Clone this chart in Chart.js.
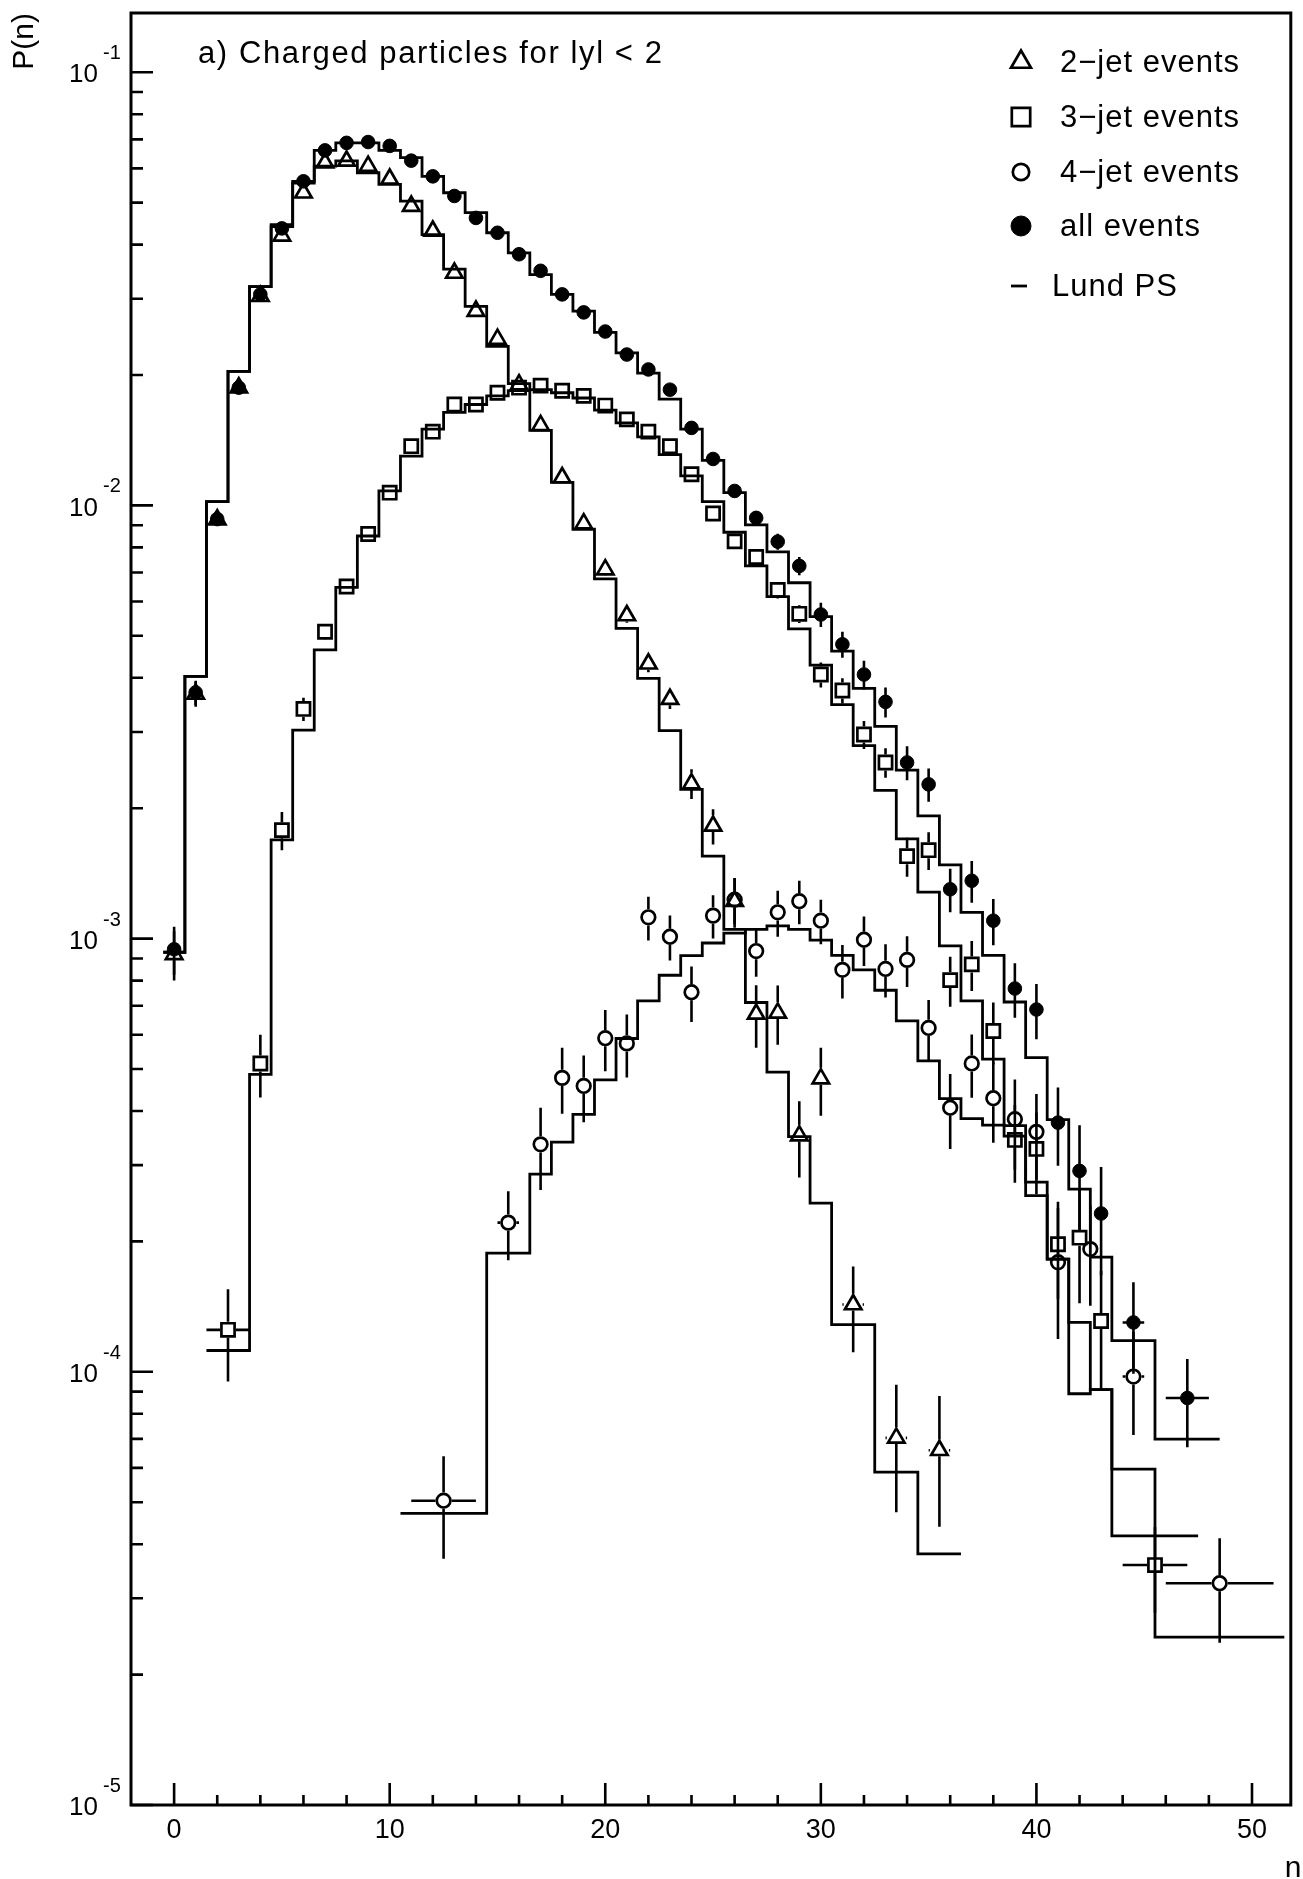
<!DOCTYPE html>
<html>
<head>
<meta charset="utf-8">
<title>P(n) - charged particles</title>
<script src="https://cdn.jsdelivr.net/npm/chart.js@4.4.1/dist/chart.umd.min.js"></script>
<style>
   html, body { margin: 0; padding: 0; background: #ffffff; }
   #canvasPn { display: block; }
</style>
</head>
<body>
<canvas id="canvasPn" width="1303" height="1879"></canvas>
<script>

/* ---- data ---- */

const panelTitle = "a) Charged particles for lyl < 2";
const xTitle = "n";

/* 2-jet events, open triangles */
const jet2N    = [0, 1, 2, 3, 4, 5, 6, 7, 8, 9, 10, 11, 12, 13, 14, 15, 16, 17, 18, 19, 20,
                  21, 22, 23, 24, 25, 26, 27, 28, 29, 30, 31.5, 33.5, 35.5];
const jet2P    = [9.2e-4, 3.67e-3, 9.27e-3, 1.87e-2, 3.04e-2, 4.19e-2, 5.27e-2, 6.18e-2, 6.24e-2, 6.07e-2,
                  5.67e-2, 4.91e-2, 4.30e-2, 3.44e-2, 2.81e-2, 2.42e-2, 1.90e-2, 1.53e-2, 1.16e-2, 9.08e-3,
                  7.11e-3, 5.57e-3, 4.31e-3, 3.57e-3, 2.28e-3, 1.82e-3, 1.22e-3, 6.70e-4, 6.74e-4, 3.51e-4,
                  4.75e-4, 1.43e-4, 7.04e-5, 6.59e-5];
const jet2Err  = [1.2e-4, 2.4e-4, 3e-4, 4e-4, 5e-4, 6e-4, 7e-4, 8e-4, 8e-4, 8e-4,
                  7e-4, 7e-4, 6e-4, 5e-4, 5e-4, 4e-4, 4e-4, 3.5e-4, 3e-4, 2.6e-4,
                  2.3e-4, 2.1e-4, 1.9e-4, 1.8e-4, 1.8e-4, 1.7e-4, 1.6e-4, 1.1e-4, 1.05e-4, 7e-5,
                  8.5e-5, 3.2e-5, 2.3e-5, 2.2e-5];
const jet2XErr = [0, 0, 0, 0, 0, 0, 0, 0, 0, 0, 0, 0, 0, 0, 0, 0, 0, 0, 0, 0,
                  0, 0, 0, 0, 0, 0, 0, 0, 0, 0, 0, 0.5, 0.5, 0.5];

/* 3-jet events, open squares */
const jet3N    = [2.5, 4, 5, 6, 7, 8, 9, 10, 11, 12, 13, 14, 15, 16, 17, 18, 19, 20, 21, 22, 23,
                  24, 25, 26, 27, 28, 29, 30, 31, 32, 33, 34, 35, 36, 37, 38, 39, 40, 41, 42, 43, 45.5];
const jet3P    = [1.25e-4, 5.15e-4, 1.78e-3, 3.39e-3, 5.11e-3, 6.5e-3, 8.59e-3, 1.07e-2, 1.37e-2, 1.48e-2,
                  1.71e-2, 1.71e-2, 1.82e-2, 1.87e-2, 1.89e-2, 1.84e-2, 1.79e-2, 1.70e-2, 1.58e-2, 1.48e-2,
                  1.37e-2, 1.18e-2, 9.58e-3, 8.26e-3, 7.6e-3, 6.38e-3, 5.62e-3, 4.07e-3, 3.74e-3, 2.96e-3,
                  2.55e-3, 1.55e-3, 1.60e-3, 8.02e-4, 8.72e-4, 6.12e-4, 3.43e-4, 3.27e-4, 1.97e-4, 2.04e-4,
                  1.31e-4, 3.58e-5];
const jet3Err  = [3e-5, 8.5e-5, 1.8e-4, 2.1e-4, 2.2e-4, 2.4e-4, 2.6e-4, 2.8e-4, 3e-4, 3e-4,
                  3e-4, 3e-4, 3e-4, 3e-4, 3e-4, 3e-4, 3e-4, 3e-4, 3e-4, 3e-4,
                  3e-4, 2.8e-4, 2.7e-4, 2.6e-4, 2.5e-4, 2.8e-4, 2.7e-4, 2.7e-4, 2.5e-4, 2.2e-4,
                  2e-4, 1.6e-4, 1.6e-4, 1.06e-4, 1.15e-4, 1e-4, 7e-5, 7e-5, 5e-5, 6e-5,
                  4e-5, 8e-6];
const jet3XErr = [1, 0, 0, 0, 0, 0, 0, 0, 0, 0, 0, 0, 0, 0, 0, 0, 0, 0, 0, 0, 0,
                  0, 0, 0, 0, 0, 0, 0, 0, 0, 0, 0, 0, 0, 0, 0, 0, 0, 0, 0, 0, 1.5];

/* 4-jet events, open circles */
const jet4N    = [12.5, 15.5, 17, 18, 19, 20, 21, 22, 23, 24, 25, 26, 27, 28, 29, 30,
                  31, 32, 33, 34, 35, 36, 37, 38, 39, 40, 41, 42.5, 44.5, 48.5];
const jet4P    = [5.04e-5, 2.21e-4, 3.35e-4, 4.77e-4, 4.57e-4, 5.89e-4, 5.73e-4, 1.12e-3, 1.01e-3, 7.52e-4,
                  1.13e-3, 1.23e-3, 9.36e-4, 1.15e-3, 1.22e-3, 1.10e-3, 8.47e-4, 9.94e-4, 8.51e-4, 8.93e-4,
                  6.22e-4, 4.07e-4, 5.15e-4, 4.28e-4, 3.83e-4, 3.58e-4, 1.79e-4, 1.92e-4, 9.75e-5, 3.25e-5];
const jet4Err  = [1.34e-5, 4e-5, 7.2e-5, 8.3e-5, 8e-5, 9.5e-5, 9.5e-5, 1.3e-4, 1.2e-4, 1.1e-4,
                  1.3e-4, 1.5e-4, 1.2e-4, 1.4e-4, 1.4e-4, 1.3e-4, 1.2e-4, 1.3e-4, 1.2e-4, 1.2e-4,
                  1e-4, 8e-5, 8.6e-5, 9e-5, 9e-5, 8e-5, 6e-5, 5e-5, 2.6e-5, 8.8e-6];
const jet4XErr = [1.5, 0.5, 0, 0, 0, 0, 0, 0, 0, 0, 0, 0, 0, 0, 0, 0,
                  0, 0, 0, 0, 0, 0, 0, 0, 0, 0, 0, 0, 0.5, 2.5];

/* all events, full dots */
const allN     = [0, 1, 2, 3, 4, 5, 6, 7, 8, 9, 10, 11, 12, 13, 14, 15, 16, 17, 18, 19, 20, 21,
                  22, 23, 24, 25, 26, 27, 28, 29, 30, 31, 32, 33, 34, 35, 36, 37, 38, 39, 40, 41,
                  42, 43, 44.5, 47];
const allP     = [9.45e-4, 3.7e-3, 9.3e-3, 1.87e-2, 3.07e-2, 4.36e-2, 5.6e-2, 6.6e-2, 6.87e-2, 6.9e-2,
                  6.76e-2, 6.25e-2, 5.75e-2, 5.18e-2, 4.61e-2, 4.26e-2, 3.80e-2, 3.48e-2, 3.07e-2, 2.79e-2,
                  2.52e-2, 2.23e-2, 2.06e-2, 1.85e-2, 1.51e-2, 1.28e-2, 1.08e-2, 9.36e-3, 8.25e-3, 7.25e-3,
                  5.6e-3, 4.78e-3, 4.07e-3, 3.52e-3, 2.55e-3, 2.27e-3, 1.30e-3, 1.36e-3, 1.10e-3, 7.67e-4,
                  6.86e-4, 3.76e-4, 2.91e-4, 2.32e-4, 1.30e-4, 8.7e-5];
const allErr   = [1.2e-4, 2.4e-4, 3e-4, 4e-4, 5e-4, 6e-4, 7e-4, 7e-4, 7e-4, 7e-4,
                  7e-4, 7e-4, 6e-4, 6e-4, 5e-4, 5e-4, 4.5e-4, 4.5e-4, 4e-4, 4e-4,
                  4e-4, 3.8e-4, 3.8e-4, 3.6e-4, 3.5e-4, 3.5e-4, 3.5e-4, 3.5e-4, 3.5e-4, 3.5e-4,
                  3.6e-4, 3.3e-4, 3.1e-4, 2.8e-4, 2.3e-4, 2e-4, 1.5e-4, 1.5e-4, 1.35e-4, 1.1e-4,
                  1e-4, 7.7e-5, 8e-5, 6.5e-5, 3.1e-5, 2e-5];
const allXErr  = [0, 0, 0, 0, 0, 0, 0, 0, 0, 0, 0, 0, 0, 0, 0, 0, 0, 0, 0, 0, 0, 0,
                  0, 0, 0, 0, 0, 0, 0, 0, 0, 0, 0, 0, 0, 0, 0, 0, 0, 0, 0, 0, 0, 0, 0.5, 1];

/* Lund PS histograms: bin edges and bin contents */
const lundAllEdges = [-0.5, 0.5, 1.5, 2.5, 3.5, 4.5, 5.5, 6.5, 7.5, 8.5, 9.5, 10.5, 11.5, 12.5, 13.5,
                      14.5, 15.5, 16.5, 17.5, 18.5, 19.5, 20.5, 21.5, 22.5, 23.5, 24.5, 25.5, 26.5, 27.5,
                      28.5, 29.5, 30.5, 31.5, 32.5, 33.5, 34.5, 35.5, 36.5, 37.5, 38.5, 39.5, 40.5, 41.5,
                      42.5, 43.5, 45.5, 48.5];
const lundAllP     = [9.3e-4, 4.03e-3, 1.02e-2, 2.04e-2, 3.2e-2, 4.45e-2, 5.6e-2, 6.6e-2, 6.87e-2, 6.87e-2,
                      6.6e-2, 6.35e-2, 5.75e-2, 5.27e-2, 4.74e-2, 4.26e-2, 3.83e-2, 3.41e-2, 3.07e-2, 2.81e-2,
                      2.51e-2, 2.25e-2, 2.02e-2, 1.76e-2, 1.50e-2, 1.27e-2, 1.07e-2, 9.02e-3, 7.81e-3, 6.63e-3,
                      5.54e-3, 4.61e-3, 3.78e-3, 3.09e-3, 2.45e-3, 1.92e-3, 1.48e-3, 1.15e-3, 9.15e-4, 7.14e-4,
                      5.31e-4, 3.82e-4, 2.64e-4, 1.84e-4, 1.18e-4, 6.99e-5];

const lund2Edges   = [-0.5, 0.5, 1.5, 2.5, 3.5, 4.5, 5.5, 6.5, 7.5, 8.5, 9.5, 10.5, 11.5, 12.5, 13.5,
                      14.5, 15.5, 16.5, 17.5, 18.5, 19.5, 20.5, 21.5, 22.5, 23.5, 24.5, 25.5, 26.5, 27.5,
                      28.5, 29.5, 30.5, 32.5, 34.5, 36.5];
const lund2P       = [9.3e-4, 4.03e-3, 1.02e-2, 2.04e-2, 3.2e-2, 4.4e-2, 5.55e-2, 6.07e-2, 6.24e-2, 5.86e-2,
                      5.51e-2, 5.04e-2, 4.22e-2, 3.51e-2, 2.88e-2, 2.33e-2, 1.91e-2, 1.49e-2, 1.13e-2, 8.81e-3,
                      6.77e-3, 5.2e-3, 3.99e-3, 3.02e-3, 2.21e-3, 1.55e-3, 1.05e-3, 7.12e-4, 4.92e-4, 3.49e-4,
                      2.45e-4, 1.285e-4, 5.87e-5, 3.8e-5];

const lund3Edges   = [1.5, 3.5, 4.5, 5.5, 6.5, 7.5, 8.5, 9.5, 10.5, 11.5, 12.5, 13.5, 14.5, 15.5, 16.5,
                      17.5, 18.5, 19.5, 20.5, 21.5, 22.5, 23.5, 24.5, 25.5, 26.5, 27.5, 28.5, 29.5, 30.5,
                      31.5, 32.5, 33.5, 34.5, 35.5, 36.5, 37.5, 38.5, 39.5, 40.5, 41.5, 42.5, 43.5, 47.5];
const lund3P       = [1.12e-4, 4.86e-4, 1.69e-3, 3.03e-3, 4.64e-3, 6.47e-3, 8.5e-3, 1.08e-2, 1.30e-2, 1.50e-2,
                      1.64e-2, 1.71e-2, 1.79e-2, 1.84e-2, 1.85e-2, 1.82e-2, 1.77e-2, 1.66e-2, 1.55e-2, 1.44e-2,
                      1.31e-2, 1.17e-2, 1.02e-2, 8.67e-3, 7.25e-3, 6.16e-3, 5.19e-3, 4.28e-3, 3.47e-3, 2.79e-3,
                      2.2e-3, 1.70e-3, 1.28e-3, 9.62e-4, 7.18e-4, 5.27e-4, 3.7e-4, 2.55e-4, 1.82e-4, 1.3e-4,
                      9.1e-5, 4.18e-5];

const lund4Edges   = [10.5, 14.5, 16.5, 17.5, 18.5, 19.5, 20.5, 21.5, 22.5, 23.5, 24.5, 25.5, 26.5, 27.5,
                      28.5, 29.5, 30.5, 31.5, 32.5, 33.5, 34.5, 35.5, 36.5, 37.5, 38.5, 39.5, 40.5, 41.5,
                      42.5, 43.5, 45.5, 51.5];
const lund4P       = [4.71e-5, 1.88e-4, 2.86e-4, 3.39e-4, 3.93e-4, 4.72e-4, 5.88e-4, 7.18e-4, 8.23e-4, 9.14e-4,
                      9.77e-4, 1.03e-3, 1.05e-3, 1.07e-3, 1.05e-3, 9.92e-4, 9.15e-4, 8.47e-4, 7.6e-4, 6.46e-4,
                      5.22e-4, 4.27e-4, 3.84e-4, 3.71e-4, 3.5e-4, 2.74e-4, 1.82e-4, 8.9e-5, 9.1e-5, 5.96e-5,
                      2.44e-5];

/* axes */
const xLabels  = [0, 10, 20, 30, 40, 50];
const yDecades = [1e-5, 1e-4, 1e-3, 1e-2, 1e-1];

/* ---- helpers ---- */

const FONT = '"Liberation Sans", Arial, sans-serif';
const INK = "#000000";

function points(xs, ys) {
   return xs.map((x, i) => ({x: x, y: ys[i]}));
}

/* one point at each low edge, plus the closing upper edge */
function histPoints(edges, vals) {
   let p = vals.map((v, i) => ({x: edges[i], y: v}));
   p.push({x: edges[edges.length - 1], y: vals[vals.length - 1]});
   return p;
}

function markerSet(label, xs, ys, err, xerr, style, r, filled, gap, legendR, order) {
   return {
      label: label,
      data: points(xs, ys),
      yErr: err,
      xErr: xerr,
      gap: gap,
      legendRadius: legendR,
      showLine: false,
      pointStyle: style,
      pointRadius: r,
      pointHoverRadius: r,
      pointBorderWidth: filled ? 1 : 2.7,
      pointBorderColor: INK,
      pointBackgroundColor: filled ? INK : "rgba(0,0,0,0)",
      order: order
   };
}

function lundSet(edges, vals) {
   return {
      label: "Lund PS",
      data: histPoints(edges, vals),
      showLine: true,
      stepped: true,
      fill: false,
      borderColor: INK,
      borderWidth: 2.8,
      pointRadius: 0,
      pointHoverRadius: 0,
      order: 5
   };
}

/* ---- plugins ---- */

/* inward tick marks, decade exponents and the closed frame */
const frameTicks = {
   id: "frameTicks",
   afterDraw(chart) {
      const {ctx, chartArea: a} = chart;
      const xs = chart.scales.x, ys = chart.scales.y;
      ctx.save();
      ctx.strokeStyle = INK;
      ctx.lineWidth = 2.6;
      ctx.beginPath();
      for (let v = 0; v <= 50; v += 2) {
         let px = xs.getPixelForValue(v);
         ctx.moveTo(px, a.bottom);
         ctx.lineTo(px, a.bottom - ((v % 10 === 0) ? 22 : 10));
      }
      for (let e = -5; e <= -1; e++) {
         for (let m = 1; m <= 9; m++) {
            let v = m * Math.pow(10, e);
            if (v < ys.min || v > ys.max)
               continue;
            let py = ys.getPixelForValue(v);
            ctx.moveTo(a.left, py);
            ctx.lineTo(a.left + ((m === 1) ? 22 : 12), py);
         }
      }
      ctx.stroke();
      ctx.lineWidth = 3;
      ctx.strokeRect(a.left, a.top, a.right - a.left, a.bottom - a.top);

      /* exponent written above right of each "10" */
      ctx.fillStyle = INK;
      ctx.font = "20px " + FONT;
      ctx.textAlign = "left";
      ctx.textBaseline = "alphabetic";
      ys.ticks.forEach(t => {
         let py = ys.getPixelForValue(t.value);
         let ex = String(Math.round(Math.log10(t.value)));
         ctx.fillText(ex, a.left - 28, py - 13);
      });
      ctx.restore();
   }
};

/* error bars, kept out of the open markers */
const errorBars = {
   id: "errorBars",
   afterDatasetsDraw(chart) {
      const {ctx, chartArea: a} = chart;
      const xs = chart.scales.x, ys = chart.scales.y;
      ctx.save();
      ctx.beginPath();
      ctx.rect(a.left, a.top, a.right - a.left, a.bottom - a.top);
      ctx.clip();
      ctx.strokeStyle = INK;
      ctx.lineWidth = 2.6;
      chart.data.datasets.forEach(ds => {
         if (!ds.yErr)
            return;
         const g = ds.gap;
         ctx.beginPath();
         ds.data.forEach((p, i) => {
            let px = xs.getPixelForValue(p.x), py = ys.getPixelForValue(p.y);
            let s = ds.yErr[i];
            let top = ys.getPixelForValue(p.y + s);
            let bot = (p.y - s > 0) ? ys.getPixelForValue(p.y - s) : a.bottom;
            if (top < py - g.up) {
               ctx.moveTo(px, top);
               ctx.lineTo(px, py - g.up);
            }
            if (bot > py + g.down) {
               ctx.moveTo(px, py + g.down);
               ctx.lineTo(px, bot);
            }
            let xe = ds.xErr[i];
            if (xe > 0) {
               ctx.moveTo(xs.getPixelForValue(p.x - xe), py);
               ctx.lineTo(px - g.side, py);
               ctx.moveTo(px + g.side, py);
               ctx.lineTo(xs.getPixelForValue(p.x + xe), py);
            }
         });
         ctx.stroke();
      });
      ctx.restore();
   }
};

/* legend in the upper right corner, panel title and the n label */
const panelText = {
   id: "panelText",
   afterDraw(chart) {
      const {ctx, chartArea: a} = chart;
      ctx.save();
      ctx.fillStyle = INK;
      ctx.font = "31px " + FONT;
      ctx.letterSpacing = "1.6px";
      ctx.textBaseline = "alphabetic";
      ctx.fillText(panelTitle, a.left + 67, a.top + 50);

      /* - - */
      ctx.letterSpacing = "1px";
      let seen = new Set(), items = [];
      chart.data.datasets.forEach(ds => {
         if (!seen.has(ds.label)) {
            seen.add(ds.label);
            items.push(ds);
         }
      });
      const rows = [62, 117, 172, 226, 286];
      const mx = 1021;
      ctx.textBaseline = "middle";
      items.forEach((ds, k) => {
         let yy = rows[k];
         ctx.strokeStyle = INK;
         if (ds.showLine) {
            ctx.lineWidth = 2.8;
            ctx.beginPath();
            ctx.moveTo(mx - 10, yy);
            ctx.lineTo(mx + 6, yy);
            ctx.stroke();
            ctx.fillStyle = INK;
            ctx.fillText(ds.label, 1052, yy + 1);
         } else {
            ctx.lineWidth = ds.pointBorderWidth;
            ctx.fillStyle = ds.pointBackgroundColor;
            Chart.helpers.drawPoint(ctx, {pointStyle: ds.pointStyle, rotation: 0,
               radius: ds.legendRadius, borderWidth: ds.pointBorderWidth}, mx, yy);
            ctx.fillStyle = INK;
            ctx.fillText(ds.label, 1060, yy + 1);
         }
      });

      /* - - */
      ctx.letterSpacing = "0px";
      ctx.font = "30px " + FONT;
      ctx.textBaseline = "alphabetic";
      ctx.fillText(xTitle, a.right - 6, 1877);
      ctx.restore();
   }
};

/* ---- chart ---- */

const datasets = [
   markerSet("2\u2212jet events", jet2N, jet2P, jet2Err, jet2XErr, "triangle", 9.5, false,
             {up: 10.8, down: 6, side: 9.5}, 11.5, 4),
   markerSet("3\u2212jet events", jet3N, jet3P, jet3Err, jet3XErr, "rect", 9.3, false,
             {up: 8, down: 8, side: 8}, 13, 3),
   markerSet("4\u2212jet events", jet4N, jet4P, jet4Err, jet4XErr, "circle", 6.8, false,
             {up: 8.1, down: 8.1, side: 8.1}, 8.2, 2),
   markerSet("all events", allN, allP, allErr, allXErr, "circle", 6.8, true,
             {up: 0, down: 0, side: 0}, 10, 1),
   lundSet(lund2Edges, lund2P),
   lundSet(lund3Edges, lund3P),
   lundSet(lund4Edges, lund4P),
   lundSet(lundAllEdges, lundAllP)
];

const conf = {
   type: "scatter",
   data: {datasets: datasets},
   options: {
      responsive: false,
      animation: false,
      devicePixelRatio: 1,
      events: [],
      layout: {padding: {top: 13, right: 5, bottom: 0, left: 0}},
      plugins: {
         legend: {display: false},
         tooltip: {enabled: false}
      },
      scales: {
         x: {
            type: "linear",
            min: -2,
            max: 51.8,
            afterBuildTicks: s => { s.ticks = xLabels.map(v => ({value: v})); },
            afterFit: s => { s.height = 74; s.paddingLeft = 0; s.paddingRight = 0; },
            ticks: {autoSkip: false, maxRotation: 0, padding: 9, color: INK,
                    font: {family: FONT, size: 27}},
            grid: {display: false, drawTicks: false},
            border: {display: false}
         },
         y: {
            type: "logarithmic",
            min: 1e-5,
            max: 0.137,
            afterBuildTicks: s => { s.ticks = yDecades.map(v => ({value: v})); },
            afterFit: s => { s.width = 131; s.paddingTop = 0; s.paddingBottom = 0; },
            ticks: {autoSkip: false, padding: 33, labelOffset: 3, color: INK,
                    font: {family: FONT, size: 26},
                    callback: () => "10"},
            grid: {display: false, drawTicks: false},
            border: {display: false},
            title: {display: true, text: "P(n)", align: "end", color: INK,
                    font: {family: FONT, size: 30}, padding: {top: 7, bottom: 0}}
         }
      }
   },
   plugins: [errorBars, frameTicks, panelText]
};

const chart = new Chart(document.getElementById("canvasPn"), conf);

</script>
</body>
</html>
